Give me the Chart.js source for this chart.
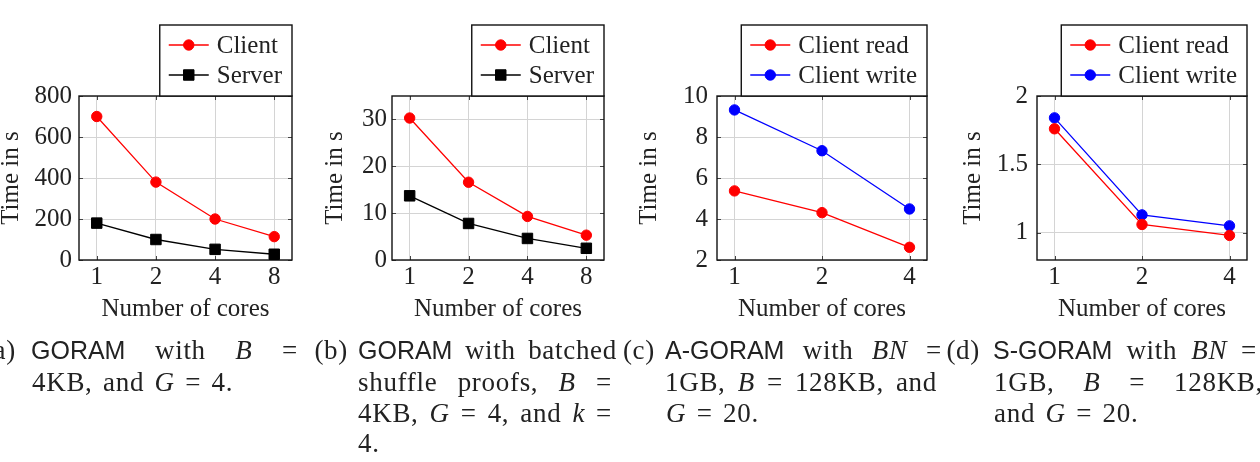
<!DOCTYPE html>
<html><head><meta charset="utf-8">
<script src="https://cdn.jsdelivr.net/npm/chart.js@4/dist/chart.umd.min.js"></script>
<style>
html,body{margin:0;padding:0;background:#fff;}
body{width:1260px;height:462px;overflow:hidden;position:relative;}
canvas{position:absolute;left:0;top:0;}
.cap{position:absolute;font-family:'Liberation Serif',serif;font-size:27px;line-height:31px;color:#222;word-spacing:3px;letter-spacing:0.7px;white-space:normal;}
.j{text-align:justify;text-align-last:justify;}
.sf{font-family:'Liberation Sans',sans-serif;font-size:25px;word-spacing:0;letter-spacing:0;}
.lab{text-align:right;width:60px;}
</style></head><body>
<canvas id="cA" width="1260" height="462"></canvas>
<canvas id="cB" width="1260" height="462"></canvas>
<canvas id="cC" width="1260" height="462"></canvas>
<canvas id="cD" width="1260" height="462"></canvas>

<!-- (a) -->
<div class="cap lab" style="left:-44px;top:335px;">(a)</div>
<div class="cap j" style="left:31px;top:335px;width:267px;"><span class="sf">GORAM</span> with <i>B</i> =</div>
<div class="cap" style="left:32px;top:367px;">4KB, and <i>G</i> = 4.</div>
<!-- (b) -->
<div class="cap lab" style="left:288px;top:335px;">(b)</div>
<div class="cap j" style="left:358px;top:335px;width:259px;"><span class="sf">GORAM</span> with batched</div>
<div class="cap j" style="left:358px;top:367px;width:254px;">shuffle proofs, <i>B</i> =</div>
<div class="cap j" style="left:358px;top:398px;width:254px;">4KB, <i>G</i> = 4, and <i>k</i> =</div>
<div class="cap" style="left:358px;top:428px;">4.</div>
<!-- (c) -->
<div class="cap lab" style="left:595px;top:335px;">(c)</div>
<div class="cap j" style="left:665px;top:335px;width:277px;"><span class="sf">A-GORAM</span> with <i>BN</i> =</div>
<div class="cap j" style="left:665px;top:367px;width:272px;">1GB, <i>B</i> = 128KB, and</div>
<div class="cap" style="left:666px;top:398px;"><i>G</i> = 20.</div>
<!-- (d) -->
<div class="cap lab" style="left:920px;top:335px;">(d)</div>
<div class="cap j" style="left:993px;top:335px;width:264px;"><span class="sf">S-GORAM</span> with <i>BN</i> =</div>
<div class="cap j" style="left:994px;top:367px;width:269px;">1GB, <i>B</i> = 128KB,</div>
<div class="cap" style="left:994px;top:398px;">and <i>G</i> = 20.</div>

<script>
// ---- data ----
const coresA = ['1', '2', '4', '8'];
const clientA = [700, 380, 200, 114];
const serverA = [180, 100, 52, 28];
const yTicksA = [0, 200, 400, 600, 800];

const coresB = ['1', '2', '4', '8'];
const clientB = [30.3, 16.6, 9.3, 5.3];
const serverB = [13.7, 7.8, 4.6, 2.5];
const yTicksB = [0, 10, 20, 30];

const coresC = ['1', '2', '4'];
const readC = [5.37, 4.31, 2.62];
const writeC = [9.32, 7.33, 4.49];
const yTicksC = [2, 4, 6, 8, 10];

const coresD = ['1', '2', '4'];
const readD = [1.76, 1.06, 0.98];
const writeD = [1.84, 1.13, 1.05];
const yTicksD = [1, 1.5, 2];

const xTitle = 'Number of cores';
const yTitle = 'Time in s';

// ---- style ----
const FAMILY = "'Liberation Serif', serif";
const FS = 25;
const TXT = '#222';
Chart.defaults.font.family = FAMILY;
Chart.defaults.font.size = FS;
Chart.defaults.color = TXT;

const framePlugin = {
  id: 'frame',
  beforeDatasetsDraw(chart) {
    const ctx = chart.ctx, a = chart.chartArea;
    ctx.save();
    ctx.strokeStyle = '#444';
    ctx.lineWidth = 1;
    const tl = 4;
    chart.scales.x.ticks.forEach(t => {
      const px = Math.round(chart.scales.x.getPixelForValue(t.value)) + 0.5;
      ctx.beginPath();
      ctx.moveTo(px, a.bottom); ctx.lineTo(px, a.bottom - tl);
      ctx.moveTo(px, a.top); ctx.lineTo(px, a.top + tl);
      ctx.stroke();
    });
    chart.scales.y.ticks.forEach(t => {
      const py = Math.round(chart.scales.y.getPixelForValue(t.value)) + 0.5;
      ctx.beginPath();
      ctx.moveTo(a.left, py); ctx.lineTo(a.left + tl, py);
      ctx.moveTo(a.right, py); ctx.lineTo(a.right - tl, py);
      ctx.stroke();
    });
    ctx.strokeStyle = '#111';
    ctx.lineWidth = 1.4;
    ctx.strokeRect(a.left, a.top, a.right - a.left, a.bottom - a.top);
    ctx.restore();
  }
};

const boxLegend = {
  id: 'boxLegend',
  afterDraw(chart, args, o) {
    const ctx = chart.ctx, a = chart.chartArea;
    const ds = chart.data.datasets;
    ctx.save();
    ctx.font = FS + 'px ' + FAMILY;
    const tw = Math.max(...ds.map(d => ctx.measureText(d.label).width));
    const padL = 9, sample = 40, gap = 8, padR = 10;
    const w = padL + sample + gap + tw + padR;
    const top = o.top, bottom = a.top, left = a.right - w;
    ctx.fillStyle = '#fff';
    ctx.fillRect(left, top, w, bottom - top);
    ctx.strokeStyle = '#111';
    ctx.lineWidth = 1.4;
    ctx.strokeRect(left, top, w, bottom - top);
    ds.forEach((d, i) => {
      const y = top + 20 + i * 30;
      ctx.strokeStyle = d.borderColor;
      ctx.lineWidth = d.borderWidth;
      ctx.beginPath();
      ctx.moveTo(left + padL, y); ctx.lineTo(left + padL + sample, y);
      ctx.stroke();
      ctx.fillStyle = d.pointBackgroundColor;
      ctx.strokeStyle = d.pointBorderColor;
      ctx.lineWidth = 1;
      Chart.helpers.drawPoint(ctx, {pointStyle: d.pointStyle, radius: d.pointRadius, borderWidth: 1, rotation: 0}, left + padL + sample / 2, y);
      ctx.fillStyle = TXT;
      ctx.textBaseline = 'middle';
      ctx.textAlign = 'left';
      ctx.fillText(d.label, left + padL + sample + gap, y + 1);
    });
    ctx.restore();
  }
};

function series(label, cats, vals, color, style, r) {
  return {
    label,
    data: cats.map((c, i) => ({x: i + 1, y: vals[i]})),
    borderColor: color,
    backgroundColor: color,
    pointBackgroundColor: color,
    pointBorderColor: color,
    borderWidth: 1.3,
    pointStyle: style,
    pointRadius: r,
    pointBorderWidth: 1,
    tension: 0
  };
}

function makeChart(id, cats, datasets, yTicks, yMin, yMax, pos) {
  const n = cats.length;
  const xPad = (n - 1) * 0.1;
  const xAxisH = 62;
  return new Chart(document.getElementById(id), {
    type: 'line',
    data: {datasets},
    options: {
      responsive: false,
      animation: false,
      devicePixelRatio: 1,
      events: [],
      layout: {padding: {left: pos.titleLeft, right: 1260 - pos.right, top: pos.top, bottom: 462 - pos.bottom - xAxisH}},
      plugins: {legend: {display: false}, tooltip: {enabled: false}, boxLegend: {top: 25}},
      scales: {
        x: {
          type: 'linear',
          min: 1 - xPad, max: n + xPad,
          afterBuildTicks: s => { s.ticks = cats.map((c, i) => ({value: i + 1})); },
          afterFit: s => { s.height = xAxisH; },
          ticks: {callback: (v, i) => cats[i], padding: 5, font: {size: FS, lineHeight: 1}, maxRotation: 0, autoSkip: false},
          grid: {color: '#d4d4d4', lineWidth: 1, drawTicks: false},
          border: {display: false},
          title: {display: true, text: xTitle, padding: 0, font: {size: FS, lineHeight: 1}}
        },
        y: {
          type: 'linear',
          min: yMin, max: yMax,
          afterBuildTicks: s => { s.ticks = yTicks.map(v => ({value: v})); },
          afterFit: s => { s.width = pos.left - pos.titleLeft; },
          ticks: {callback: v => String(v), padding: pos.tickPad, font: {size: FS, lineHeight: 1}, autoSkip: false},
          grid: {color: '#d4d4d4', lineWidth: 1, drawTicks: false},
          border: {display: false},
          title: {display: true, text: yTitle, padding: 0, font: {size: FS, lineHeight: 1}}
        }
      }
    },
    plugins: [framePlugin, boxLegend]
  });
}

makeChart('cA', coresA, [
  series('Client', coresA, clientA, '#ff0000', 'circle', 5.2),
  series('Server', coresA, serverA, '#000000', 'rect', 7.4)
], yTicksA, 0, 800, {titleLeft: -1, left: 79, right: 292, top: 96, bottom: 260, tickPad: 7});

makeChart('cB', coresB, [
  series('Client', coresB, clientB, '#ff0000', 'circle', 5.2),
  series('Server', coresB, serverB, '#000000', 'rect', 7.4)
], yTicksB, 0, 35, {titleLeft: 323, left: 392, right: 604, top: 96, bottom: 260, tickPad: 5});

makeChart('cC', coresC, [
  series('Client read', coresC, readC, '#ff0000', 'circle', 5.2),
  series('Client write', coresC, writeC, '#0000ff', 'circle', 5.2)
], yTicksC, 2, 10, {titleLeft: 637, left: 717, right: 927, top: 96, bottom: 260, tickPad: 9});

makeChart('cD', coresD, [
  series('Client read', coresD, readD, '#ff0000', 'circle', 5.2),
  series('Client write', coresD, writeD, '#0000ff', 'circle', 5.2)
], yTicksD, 0.8, 2, {titleLeft: 961, left: 1037, right: 1247, top: 96, bottom: 260, tickPad: 9});
</script>
</body></html>
